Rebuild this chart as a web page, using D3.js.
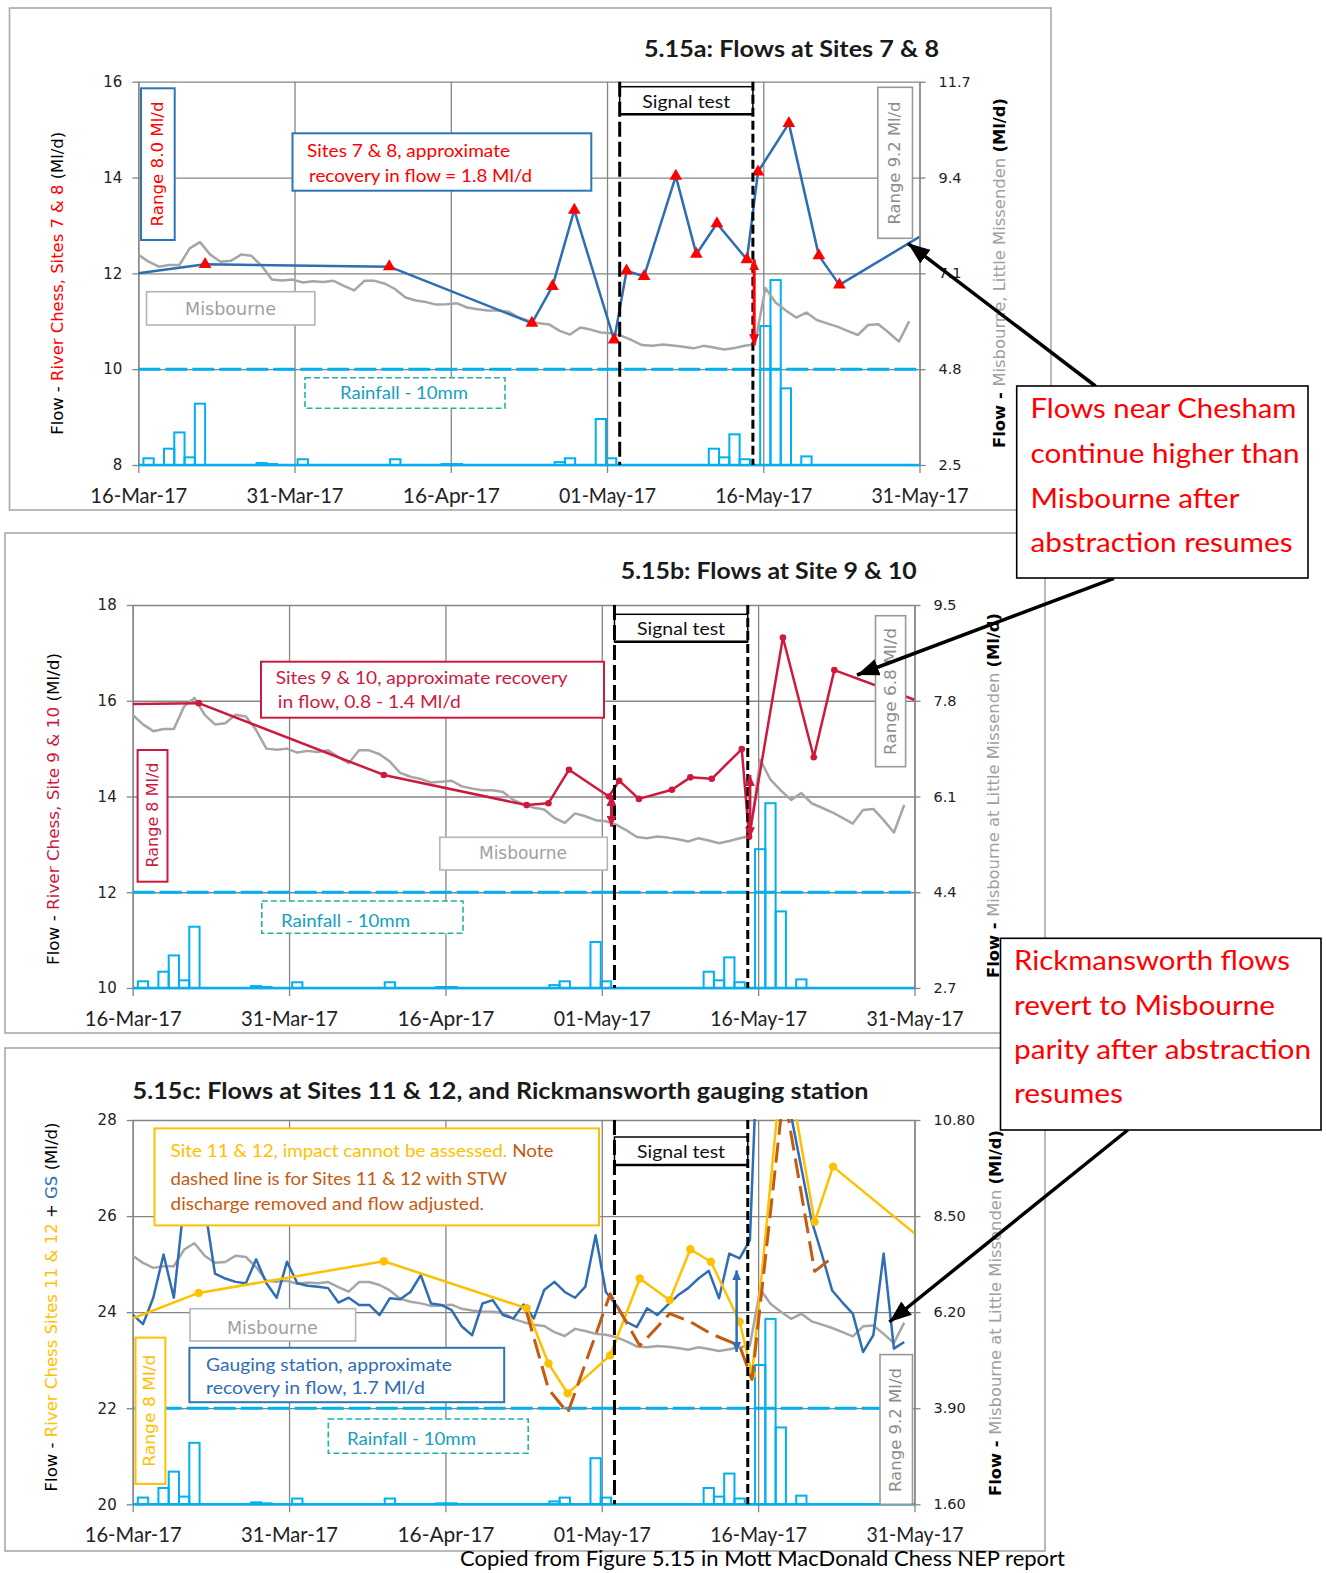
<!DOCTYPE html>
<html>
<head>
<meta charset="utf-8">
<title>Figure 5.15 – River Chess flows during the signal test</title>
<script src="https://cdn.jsdelivr.net/npm/d3@7/dist/d3.min.js"></script>
<style>
  html, body { margin: 0; padding: 0; background: #fff; }
  svg { display: block; }
</style>
</head>
<body>
<svg id="chart" width="1326" height="1573"></svg>
<script>
// ================= data =================
const startDay = "2017-03-16";
const endDay = "2017-05-31";
const dateTickLabels = ["16-Mar-17", "31-Mar-17", "16-Apr-17", "01-May-17", "16-May-17", "31-May-17"];

const signalStart = "2017-05-01 20:00";
const signalEnd = "2017-05-14 19:00";

// daily rainfall (mm), one value per day starting 16-Mar
const rainfallMm = [
  0, 0.7, 0, 1.7, 3.4, 0.8, 6.4, 0, 0, 0,
  0, 0, 0.2, 0.1, 0, 0, 0.6, 0, 0, 0,
  0, 0, 0, 0, 0, 0.6, 0, 0, 0, 0,
  0.1, 0.1, 0, 0, 0, 0, 0, 0, 0, 0,
  0, 0.3, 0.7, 0, 0, 4.8, 0.7, 0, 0, 0,
  0, 0, 0, 0, 0, 0, 1.7, 0.8, 3.2, 0.6,
  0, 14.5, 19.3, 8.0, 0, 0.9, 0, 0, 0, 0,
  0, 0, 0, 0, 0, 0, 0
];

// Misbourne at Little Missenden, daily flow (Ml/d) starting 16-Mar
const misbourneFlow = [
  7.55, 7.38, 7.26, 7.30, 7.30, 7.70, 7.85, 7.55, 7.38, 7.40,
  7.55, 7.52, 7.28, 6.95, 6.93, 6.95, 6.88, 6.91, 6.89, 6.92,
  6.80, 6.69, 6.92, 6.92, 6.85, 6.72, 6.52, 6.45, 6.41, 6.35,
  6.36, 6.38, 6.28, 6.24, 6.21, 6.21, 6.18, 6.04, 5.96, 5.90,
  5.87, 5.72, 5.63, 5.80, 5.75, 5.68, 5.66, 5.60, 5.50, 5.38,
  5.36, 5.39, 5.37, 5.34, 5.30, 5.36, 5.32, 5.27, 5.31, 5.36,
  5.40, 6.75, 6.40, 6.21, 6.04, 6.16, 5.98, 5.90, 5.82, 5.72,
  5.62, 5.86, 5.88, 5.68, 5.46, 5.95
];

// Rickmansworth gauging station (GS), daily flow (Ml/d) starting 16-Mar
const gaugingFlow = [
  23.95, 23.75, 24.30, 25.20, 24.30, 26.30, 25.90, 26.20, 24.80, 24.70,
  24.63, 24.60, 25.10, 24.60, 24.30, 25.05, 24.60, 24.55, 24.53, 24.50,
  24.20, 24.30, 24.15, 24.15, 23.94, 24.29, 24.27, 24.42, 24.77, 24.18,
  24.15, 24.04, 23.70, 23.52, 24.18, 24.25, 23.94, 23.87, 24.16, 23.87,
  24.46, 24.63, 24.42, 24.30, 24.53, 25.60, 24.42, 24.15, 23.80, 23.69,
  24.08, 23.94, 24.15, 24.35, 24.50, 24.70, 24.86, 24.29, 25.22, 25.12,
  25.50, 31.00, 31.50, 30.50, 28.10, 27.00, 25.90, 25.20, 24.45, 24.20,
  23.97, 23.17, 23.52, 25.22, 23.24, 23.38
];

// River Chess, Sites 7 & 8 spot flows (Ml/d)
const sites78Dates = [
  "2017-03-16 00:00", "2017-03-22 12:00", "2017-04-09 10:00", "2017-04-23 07:00", "2017-04-25 07:00",
  "2017-04-27 10:00", "2017-05-01 07:00", "2017-05-02 12:00", "2017-05-04 05:00", "2017-05-07 07:00",
  "2017-05-09 07:00", "2017-05-11 07:00", "2017-05-14 05:00", "2017-05-15 07:00", "2017-05-18 07:00",
  "2017-05-21 05:00", "2017-05-23 05:00", "2017-05-31 00:00"
];
const sites78Flow = [12.00, 12.19, 12.14, 10.96, 11.73, 13.32, 10.61, 12.05, 11.94, 14.03,
  12.40, 13.04, 12.29, 14.12, 15.13, 12.37, 11.76, 12.76];

// River Chess, Sites 9 & 10 spot flows (Ml/d)
const sites910Dates = [
  "2017-03-16 00:00", "2017-03-22 10:00", "2017-04-09 10:00", "2017-04-23 07:00", "2017-04-25 10:00",
  "2017-04-27 10:00", "2017-05-01 07:00", "2017-05-02 07:00", "2017-05-04 05:00", "2017-05-07 10:00",
  "2017-05-09 05:00", "2017-05-11 07:00", "2017-05-14 05:00", "2017-05-14 22:00", "2017-05-18 05:00",
  "2017-05-21 05:00", "2017-05-23 05:00", "2017-05-31 00:00"
];
const sites910Flow = [15.93, 15.95, 14.45, 13.82, 13.86, 14.56, 14.00, 14.33, 13.95, 14.14,
  14.40, 14.37, 14.99, 13.16, 17.32, 14.82, 16.64, 16.02];

// River Chess, Sites 11 & 12 spot flows (Ml/d)
const sites1112Dates = [
  "2017-03-16 00:00", "2017-03-22 10:00", "2017-04-09 10:00", "2017-04-23 07:00", "2017-04-25 10:00",
  "2017-04-27 07:00", "2017-05-01 10:00", "2017-05-04 07:00", "2017-05-07 05:00", "2017-05-09 05:00",
  "2017-05-11 05:00", "2017-05-14 00:00", "2017-05-15 05:00", "2017-05-18 07:00", "2017-05-21 07:00",
  "2017-05-23 02:00", "2017-05-31 00:00"
];
const sites1112Flow = [23.87, 24.40, 25.06, 24.08, 22.93, 22.31, 23.10, 24.70, 24.25, 25.31,
  25.05, 23.80, 22.70, 29.55, 25.88, 27.03, 25.64];

// Sites 11 & 12 with STW discharge removed and flow adjusted (Ml/d)
const adjustedDates = [
  "2017-04-23 07:00", "2017-04-25 10:00", "2017-04-27 07:00", "2017-05-01 10:00", "2017-05-04 07:00",
  "2017-05-07 05:00", "2017-05-09 05:00", "2017-05-11 05:00", "2017-05-14 00:00", "2017-05-15 05:00",
  "2017-05-18 07:00", "2017-05-21 07:00", "2017-05-23 02:00"
];
const adjustedFlow = [24.00, 22.40, 21.90, 24.38, 23.30, 23.97, 23.80, 23.55, 23.30, 22.60,
  28.60, 24.85, 25.15];

// recovery arrows (date, upper flow, lower flow)
const recoveryArrowA = [{ date: "2017-05-14 22:00", top: 12.29, bottom: 10.50 }];
const recoveryArrowsB = [
  { date: "2017-05-01 13:00", top: 14.03, bottom: 13.37 },
  { date: "2017-05-15 00:00", top: 14.45, bottom: 13.13 }
];
const recoveryArrowC = [{ date: "2017-05-13 17:00", top: 24.87, bottom: 23.17 }];

// axis ticks
const leftTicksA = [8, 10, 12, 14, 16];
const rightTicksA = [2.5, 4.8, 7.1, 9.4, 11.7];
const leftTicksB = [10, 12, 14, 16, 18];
const rightTicksB = [2.7, 4.4, 6.1, 7.8, 9.5];
const leftTicksC = [20, 22, 24, 26, 28];
const rightTicksC = [1.6, 3.9, 6.2, 8.5, 10.8];

// ================= styling =================
const SANS = "Lato, 'Open Sans', 'Noto Sans', sans-serif";
const WIDE = "'DejaVu Sans', Verdana, sans-serif";
const C = {
  grid: "#858585", frame: "#a9a9a9", rain: "#00b0f0", rainText: "#14a0c0", rainBox: "#22b3a2",
  misb: "#a6a6a6", misbText: "#a0a0a0", rangeGrey: "#8c8c8c",
  blue: "#2e6db4", red: "#ff0000", crimson: "#cc1a3f", gold: "#ffc000", brown: "#c55a11",
  gs: "#2f6db5", boxBlue: "#2e75b6"
};

const svg = d3.select("#chart");
svg.append("rect").attr("width", 1326).attr("height", 1573).attr("fill", "#fff");
const defs = svg.append("defs");

const parseDay = d3.utcParse("%Y-%m-%d");
const parseTime = d3.utcParse("%Y-%m-%d %H:%M");
const t0 = parseDay(startDay), t1 = parseDay(endDay);
const dayDate = i => d3.utcDay.offset(t0, i);
const tickDates = dateTickLabels.map((_, i) => new Date(+t0 + i * (t1 - t0) / (dateTickLabels.length - 1)));

function arrowHead(id, color, len, wid) {
  defs.append("marker").attr("id", id)
    .attr("viewBox", `0 0 ${len} ${wid}`)
    .attr("refX", len).attr("refY", wid / 2)
    .attr("markerWidth", len).attr("markerHeight", wid)
    .attr("markerUnits", "userSpaceOnUse")
    .attr("orient", "auto-start-reverse")
    .append("path").attr("d", `M0,0L${len},${wid / 2}L0,${wid}Z`).attr("fill", color);
}
arrowHead("headBlack", "#000", 22, 17);
arrowHead("headRed", C.red, 11, 10);
arrowHead("headCrimson", C.crimson, 11, 10);
arrowHead("headBlue", C.gs, 10, 9);

function addText(g, o) {
  const t = g.append("text")
    .attr("x", o.x).attr("y", o.y)
    .attr("font-family", o.font || SANS)
    .attr("font-size", o.size)
    .attr("font-weight", o.weight || "normal")
    .attr("text-anchor", o.anchor || "start");
  if (o.rotate) t.attr("transform", `rotate(-90 ${o.x} ${o.y})`).attr("dominant-baseline", "central");
  const parts = o.parts || [[o.text, o.fill || "#000"]];
  parts.forEach(([s, c, w]) => {
    const ts = t.append("tspan").attr("fill", c).text(s);
    if (w) ts.attr("font-weight", w);
  });
  if (o.width) t.attr("textLength", o.width).attr("lengthAdjust", "spacingAndGlyphs");
  return t;
}

function addBox(g, b, stroke, opts = {}) {
  g.append("rect")
    .attr("x", b[0]).attr("y", b[1]).attr("width", b[2] - b[0]).attr("height", b[3] - b[1])
    .attr("fill", "#fff").attr("stroke", stroke)
    .attr("stroke-width", opts.sw || 1.6)
    .attr("stroke-dasharray", opts.dash || null);
}

// ================= panel scaffolding =================
function drawBase(p) {
  const g = svg.append("g").attr("class", "panel-" + p.id);
  const [fx0, fy0, fx1, fy1] = p.frame;
  g.append("rect").attr("x", fx0).attr("y", fy0).attr("width", fx1 - fx0).attr("height", fy1 - fy0)
    .attr("fill", "#fff").attr("stroke", C.frame).attr("stroke-width", 1.6);

  const x = d3.scaleUtc().domain([t0, t1]).range([p.left, p.right]);
  const y = d3.scaleLinear().domain(d3.extent(p.leftTicks)).range([p.bottom, p.top]);
  const y2 = d3.scaleLinear().domain(d3.extent(p.rightTicks)).range([p.bottom, p.top]);
  const yRain = d3.scaleLinear().domain([0, 10]).range([p.bottom, y(p.rainRef)]);

  const clipId = "clip-" + p.id;
  defs.append("clipPath").attr("id", clipId).append("rect")
    .attr("x", p.left).attr("y", p.top - 1).attr("width", p.right - p.left).attr("height", p.bottom - p.top + 2);

  // gridlines
  g.append("g").attr("transform", `translate(${p.left},0)`)
    .call(d3.axisLeft(y).tickValues(p.leftTicks).tickSize(-(p.right - p.left)).tickFormat(""))
    .call(a => a.select(".domain").remove())
    .selectAll("line").attr("stroke", C.grid).attr("stroke-width", 1.3);
  g.append("g").attr("transform", `translate(0,${p.bottom})`)
    .call(d3.axisBottom(x).tickValues(tickDates).tickSize(-(p.bottom - p.top)).tickFormat(""))
    .call(a => a.select(".domain").remove())
    .selectAll("line").attr("stroke", C.grid).attr("stroke-width", 1.3);

  // left axis
  const la = g.append("g").attr("transform", `translate(${p.left},0)`)
    .call(d3.axisLeft(y).tickValues(p.leftTicks).tickSize(6).tickSizeOuter(0).tickPadding(10).tickFormat(d3.format("d")));
  la.select(".domain").attr("stroke", C.grid).attr("stroke-width", 1.3);
  la.selectAll(".tick line").attr("stroke", C.grid).attr("stroke-width", 1.3);
  la.selectAll("text").attr("font-family", WIDE).attr("font-size", 15).attr("fill", "#222");

  // right axis
  const ra = g.append("g").attr("transform", `translate(${p.right},0)`)
    .call(d3.axisRight(y2).tickValues(p.rightTicks).tickSize(6).tickSizeOuter(0).tickPadding(13).tickFormat(d3.format(p.rightFmt)));
  ra.select(".domain").attr("stroke", C.grid).attr("stroke-width", 1.3);
  ra.selectAll(".tick line").attr("stroke", C.grid).attr("stroke-width", 1.3);
  ra.selectAll("text").attr("font-family", WIDE).attr("font-size", 14.5).attr("fill", "#222");

  // date axis
  const ba = g.append("g").attr("transform", `translate(0,${p.bottom})`)
    .call(d3.axisBottom(x).tickValues(tickDates).tickSize(8).tickSizeOuter(0).tickPadding(14)
      .tickFormat((d, i) => dateTickLabels[i]));
  ba.select(".domain").remove();
  ba.selectAll(".tick line").attr("stroke", C.grid).attr("stroke-width", 1.3);
  ba.selectAll("text").attr("font-family", SANS).attr("font-size", 22).attr("fill", "#222")
    .attr("textLength", 97).attr("lengthAdjust", "spacingAndGlyphs");

  // rainfall
  const rain = rainfallMm.map((v, i) => ({ date: dayDate(i), v })).filter(d => d.v > 0);
  g.append("g").attr("clip-path", `url(#${clipId})`)
    .selectAll("rect").data(rain).join("rect")
    .attr("x", d => x(d3.utcHour.offset(d.date, -12)))
    .attr("width", d => x(d3.utcHour.offset(d.date, 12)) - x(d3.utcHour.offset(d.date, -12)))
    .attr("y", d => yRain(d.v))
    .attr("height", d => yRain(0) - yRain(d.v))
    .attr("fill", "none").attr("stroke", C.rain).attr("stroke-width", 2);
  g.append("line").attr("x1", p.left).attr("x2", p.right).attr("y1", yRain(0)).attr("y2", yRain(0))
    .attr("stroke", C.rain).attr("stroke-width", 2.5);
  g.append("line").attr("x1", p.left).attr("x2", p.right).attr("y1", yRain(10)).attr("y2", yRain(10))
    .attr("stroke", C.rain).attr("stroke-width", 3).attr("stroke-dasharray", "22,5");

  // Misbourne on the secondary axis
  const lines = g.append("g").attr("clip-path", `url(#${clipId})`);
  lines.append("path")
    .datum(misbourneFlow.map((v, i) => ({ date: dayDate(i), v })))
    .attr("d", d3.line().x(d => x(d.date)).y(d => y2(d.v)))
    .attr("fill", "none").attr("stroke", C.misb).attr("stroke-width", 2.5).attr("stroke-linejoin", "round");

  return { g, x, y, y2, lines, clipId };
}

function spotSeries(dates, flows) {
  return dates.map((d, i) => ({ date: parseTime(d), v: flows[i] }));
}

function drawSeries(ctx, data, color, opts = {}) {
  ctx.lines.append("path").datum(data)
    .attr("d", d3.line().x(d => ctx.x(d.date)).y(d => ctx.y(d.v)))
    .attr("fill", "none").attr("stroke", color).attr("stroke-width", opts.width || 2.5)
    .attr("stroke-linejoin", "round")
    .attr("stroke-dasharray", opts.dash || null);
  if (!opts.marker) return;
  const inner = data.filter(d => d.date > t0 && d.date < t1);
  const m = ctx.lines.append("g");
  if (opts.marker === "triangle") {
    m.selectAll("path").data(inner).join("path")
      .attr("transform", d => `translate(${ctx.x(d.date)},${ctx.y(d.v)})`)
      .attr("d", d3.symbol(d3.symbolTriangle, 70)())
      .attr("fill", opts.markerColor);
  } else {
    m.selectAll("circle").data(inner).join("circle")
      .attr("cx", d => ctx.x(d.date)).attr("cy", d => ctx.y(d.v))
      .attr("r", opts.r || 3.2).attr("fill", opts.markerColor);
  }
}

function drawArrows(ctx, arrows, color, head, width) {
  ctx.g.selectAll(null).data(arrows).join("line")
    .attr("x1", d => ctx.x(parseTime(d.date))).attr("x2", d => ctx.x(parseTime(d.date)))
    .attr("y1", d => ctx.y(d.top)).attr("y2", d => ctx.y(d.bottom))
    .attr("stroke", color).attr("stroke-width", width)
    .attr("marker-start", `url(#${head})`).attr("marker-end", `url(#${head})`);
}

function drawSignal(p, ctx) {
  const xs = ctx.x(parseTime(signalStart)), xe = ctx.x(parseTime(signalEnd));
  const [b0, b1] = p.signalBox;
  ctx.g.append("rect").attr("x", xs).attr("y", b0).attr("width", xe - xs).attr("height", b1 - b0)
    .attr("fill", "#fff").attr("stroke", "#000").attr("stroke-width", 1.5);
  ctx.g.append("line").attr("x1", xs).attr("x2", xe).attr("y1", b1).attr("y2", b1)
    .attr("stroke", "#000").attr("stroke-width", 2.5);
  addText(ctx.g, { x: (xs + xe) / 2, y: p.signalText, text: "Signal test", size: 16.5, anchor: "middle", width: 88, fill: "#111" });
  ctx.g.append("line").attr("x1", xs).attr("x2", xs).attr("y1", p.top).attr("y2", p.bottom)
    .attr("stroke", "#000").attr("stroke-width", 3).attr("stroke-dasharray", "15,5");
  ctx.g.append("line").attr("x1", xe).attr("x2", xe).attr("y1", p.top).attr("y2", p.bottom)
    .attr("stroke", "#000").attr("stroke-width", 3).attr("stroke-dasharray", "9,4");
}

// ================= 5.15a =================
const pA = { id: "a", frame: [9.5, 8, 1051, 510], left: 138.3, right: 919.5, top: 81.7, bottom: 465,
  leftTicks: leftTicksA, rightTicks: rightTicksA, rightFmt: ".1f", rainRef: 10,
  signalBox: [86.7, 114.3], signalText: 108 };
const a = drawBase(pA);
drawSeries(a, spotSeries(sites78Dates, sites78Flow), C.blue, { marker: "triangle", markerColor: C.red });
drawSignal(pA, a);
drawArrows(a, recoveryArrowA, C.red, "headRed", 3);

addText(a.g, { x: 644, y: 57, text: "5.15a: Flows at Sites 7 & 8", size: 23, weight: "bold", width: 295, fill: "#1a1a1a" });
addBox(a.g, [141, 88.3, 174.7, 240], C.boxBlue, { sw: 2 });
addText(a.g, { x: 158, y: 164, text: "Range 8.0 Ml/d", size: 15, font: WIDE, rotate: true, anchor: "middle", width: 125, fill: C.red });
addBox(a.g, [292.5, 133.3, 591.3, 190.7], C.boxBlue, { sw: 2 });
addText(a.g, { x: 307, y: 156.7, text: "Sites 7 & 8, approximate", size: 17.5, width: 203, fill: C.red });
addText(a.g, { x: 309, y: 181.7, text: "recovery in flow = 1.8 Ml/d", size: 17.5, width: 223, fill: C.red });
addBox(a.g, [146.5, 291.7, 314.8, 325], "#b5b5b5");
addText(a.g, { x: 230.5, y: 315, text: "Misbourne", size: 17, font: WIDE, anchor: "middle", width: 91, fill: C.misbText });
addBox(a.g, [305, 377.7, 505, 408.3], C.rainBox, { dash: "6,3" });
addText(a.g, { x: 340, y: 399.3, text: "Rainfall - 10mm", size: 17, width: 128, fill: C.rainText });
addBox(a.g, [877.8, 87.3, 912.5, 238.3], "#999");
addText(a.g, { x: 895, y: 163, text: "Range 9.2 Ml/d", size: 15, font: WIDE, rotate: true, anchor: "middle", width: 123, fill: C.rangeGrey });
addText(a.g, { x: 58, y: 283.3, size: 15, font: WIDE, rotate: true, anchor: "middle", width: 303,
  parts: [["Flow - ", "#000"], ["River Chess, Sites 7 & 8", C.red], [" (Ml/d)", "#000"]] });
addText(a.g, { x: 1000, y: 273, size: 15, font: WIDE, rotate: true, anchor: "middle", width: 350,
  parts: [["Flow - ", "#000", "bold"], ["Misbourne, Little Missenden ", C.misbText], ["(Ml/d)", "#000", "bold"]] });

// ================= 5.15b =================
const pB = { id: "b", frame: [5, 533, 1045, 1033], left: 132.7, right: 914.5, top: 605, bottom: 988,
  leftTicks: leftTicksB, rightTicks: rightTicksB, rightFmt: ".1f", rainRef: 12,
  signalBox: [614.3, 641.7], signalText: 635 };
const b = drawBase(pB);
drawSeries(b, spotSeries(sites910Dates, sites910Flow), C.crimson, { marker: "circle", markerColor: C.crimson, r: 3.3 });
drawSignal(pB, b);
drawArrows(b, recoveryArrowsB, C.crimson, "headCrimson", 3);

addText(b.g, { x: 620.8, y: 579, text: "5.15b: Flows at Site 9 & 10", size: 23, weight: "bold", width: 296, fill: "#1a1a1a" });
addBox(b.g, [137.6, 750, 167.5, 881.7], C.crimson, { sw: 2 });
addText(b.g, { x: 152.5, y: 815, text: "Range 8 Ml/d", size: 15, font: WIDE, rotate: true, anchor: "middle", width: 105, fill: C.crimson });
addBox(b.g, [261, 661.7, 604, 717.7], C.crimson, { sw: 2 });
addText(b.g, { x: 275.7, y: 684.3, text: "Sites 9 & 10, approximate recovery", size: 17.5, width: 292, fill: C.crimson });
addText(b.g, { x: 277.8, y: 708.3, text: "in flow, 0.8 - 1.4 Ml/d", size: 17.5, width: 183, fill: C.crimson });
addBox(b.g, [439.8, 837.3, 607.3, 870], "#b5b5b5");
addText(b.g, { x: 523, y: 859.3, text: "Misbourne", size: 17, font: WIDE, anchor: "middle", width: 88, fill: C.misbText });
addBox(b.g, [261.8, 901, 463, 933.3], C.rainBox, { dash: "6,3" });
addText(b.g, { x: 281, y: 927, text: "Rainfall - 10mm", size: 17, width: 129, fill: C.rainText });
addBox(b.g, [875.5, 615.7, 905.6, 766.7], "#999");
addText(b.g, { x: 890.5, y: 691.5, text: "Range 6.8 Ml/d", size: 15, font: WIDE, rotate: true, anchor: "middle", width: 127, fill: C.rangeGrey });
addText(b.g, { x: 53.6, y: 809, size: 15, font: WIDE, rotate: true, anchor: "middle", width: 312,
  parts: [["Flow - ", "#000"], ["River Chess, Site 9 & 10", C.crimson], ["  (Ml/d)", "#000"]] });
addText(b.g, { x: 993.5, y: 795.5, size: 15, font: WIDE, rotate: true, anchor: "middle", width: 365,
  parts: [["Flow - ", "#000", "bold"], ["Misbourne at Little Missenden ", C.misbText], ["(Ml/d)", "#000", "bold"]] });

// ================= 5.15c =================
const pC = { id: "c", frame: [5, 1048, 1045, 1551], left: 132.7, right: 914.5, top: 1120, bottom: 1504.3,
  leftTicks: leftTicksC, rightTicks: rightTicksC, rightFmt: ".2f", rainRef: 22,
  signalBox: [1137, 1165], signalText: 1158 };
const c = drawBase(pC);
drawSeries(c, gaugingFlow.map((v, i) => ({ date: dayDate(i), v })), C.gs);
drawSeries(c, spotSeries(sites1112Dates, sites1112Flow), C.gold, { marker: "circle", markerColor: C.gold, r: 4.2 });
drawSeries(c, spotSeries(adjustedDates, adjustedFlow), C.brown, { dash: "20,8", width: 3 });
drawSignal(pC, c);
drawArrows(c, recoveryArrowC, C.gs, "headBlue", 2.5);

addText(c.g, { x: 132.6, y: 1099, text: "5.15c: Flows at Sites 11 & 12, and Rickmansworth gauging station", size: 23, weight: "bold", width: 736, fill: "#1a1a1a" });
addBox(c.g, [154.5, 1128.4, 599, 1225.4], C.gold, { sw: 2 });
addText(c.g, { x: 170.5, y: 1157.3, size: 16.5, width: 383,
  parts: [["Site 11 & 12, impact cannot be assessed. ", C.gold], ["Note", C.brown]] });
addText(c.g, { x: 170.5, y: 1184.6, text: "dashed line is for Sites 11 & 12 with STW", size: 16.5, width: 336.5, fill: C.brown });
addText(c.g, { x: 170.5, y: 1210, text: "discharge removed and flow adjusted.", size: 16.5, width: 313.5, fill: C.brown });
addBox(c.g, [190, 1308.7, 355.6, 1341], "#b5b5b5");
addText(c.g, { x: 272.4, y: 1334, text: "Misbourne", size: 17, font: WIDE, anchor: "middle", width: 91, fill: C.misbText });
addBox(c.g, [189.4, 1347.8, 504.2, 1402.2], C.boxBlue, { sw: 2 });
addText(c.g, { x: 206, y: 1370.6, text: "Gauging station, approximate", size: 17.5, width: 246, fill: C.gs });
addText(c.g, { x: 206, y: 1393.7, text: "recovery in flow, 1.7 Ml/d", size: 17.5, width: 219, fill: C.gs });
addBox(c.g, [328.3, 1419, 528.2, 1453.3], C.rainBox, { dash: "6,3" });
addText(c.g, { x: 347, y: 1444.8, text: "Rainfall - 10mm", size: 17, width: 129, fill: C.rainText });
addBox(c.g, [135.5, 1337.6, 165.4, 1483.9], C.gold, { sw: 2 });
addText(c.g, { x: 150.5, y: 1410.7, text: "Range 8 Ml/d", size: 15, font: WIDE, rotate: true, anchor: "middle", width: 112, fill: C.gold });
addBox(c.g, [880, 1354.6, 912.5, 1504.3], "#999");
addText(c.g, { x: 896, y: 1430, text: "Range 9.2 Ml/d", size: 15, font: WIDE, rotate: true, anchor: "middle", width: 124, fill: C.rangeGrey });
addText(c.g, { x: 51.5, y: 1307, size: 15, font: WIDE, rotate: true, anchor: "middle", width: 369,
  parts: [["Flow - ", "#000"], ["River Chess Sites 11 & 12", C.gold], [" + ", "#000"], ["GS", C.gs], ["  (Ml/d)", "#000"]] });
addText(c.g, { x: 996, y: 1313, size: 15, font: WIDE, rotate: true, anchor: "middle", width: 366,
  parts: [["Flow - ", "#000", "bold"], ["Misbourne at Little Missenden ", C.misbText], ["(Ml/d)", "#000", "bold"]] });

// ================= call-outs =================
const notes = svg.append("g");
const callouts = [
  { box: [1016.7, 386, 1308, 578], left: 1030.5,
    lines: [["Flows near Chesham", 418, 266], ["continue higher than", 463, 269], ["Misbourne after", 508, 209], ["abstraction resumes", 552, 262]] },
  { box: [1000.5, 938.3, 1321, 1130], left: 1014,
    lines: [["Rickmansworth flows", 970, 276], ["revert to Misbourne", 1015, 261], ["parity after abstraction", 1059, 297], ["resumes", 1103, 109]] }
];
const calloutArrows = [
  [[1095.4, 386], [907.9, 243.3]],
  [[1113.9, 578.3], [857, 675]],
  [[1127.8, 1130], [889.4, 1322]]
];
notes.selectAll("line").data(calloutArrows).join("line")
  .attr("x1", d => d[0][0]).attr("y1", d => d[0][1])
  .attr("x2", d => d[1][0]).attr("y2", d => d[1][1])
  .attr("stroke", "#000").attr("stroke-width", 3.5)
  .attr("marker-end", "url(#headBlack)");
callouts.forEach(co => {
  addBox(notes, co.box, "#000", { sw: 1.6 });
  co.lines.forEach(([s, yb, w]) => addText(notes, { x: co.left, y: yb, text: s, size: 27, width: w, fill: C.red }));
});

addText(svg, { x: 460, y: 1566, text: "Copied from Figure 5.15 in Mott MacDonald Chess NEP report", size: 22, width: 605, fill: "#000" });
</script>
</body>
</html>
